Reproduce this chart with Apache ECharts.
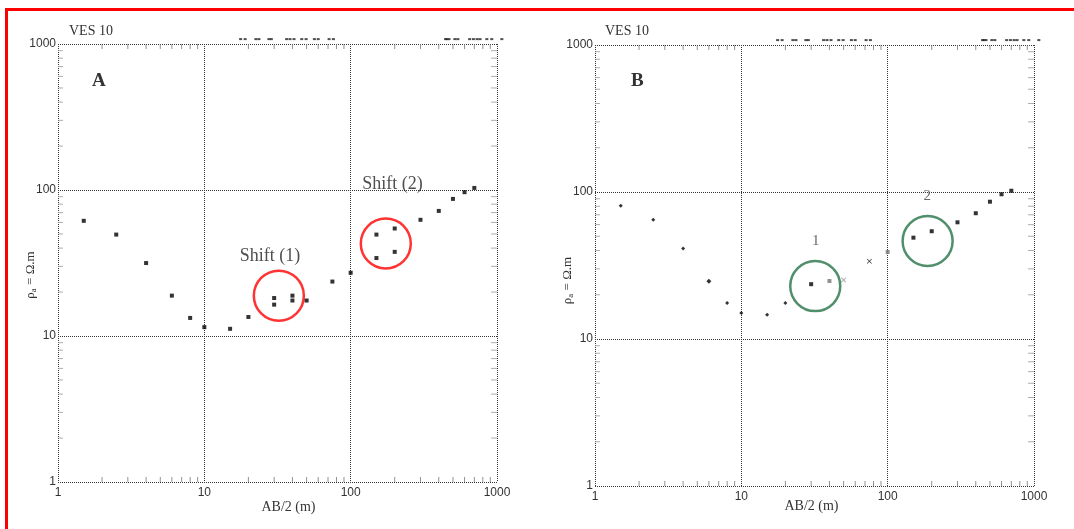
<!DOCTYPE html>
<html>
<head>
<meta charset="utf-8">
<script src="https://cdn.jsdelivr.net/npm/echarts@6/dist/echarts.min.js"></script>
<style>
html,body{margin:0;padding:0;background:#fff;}
#wrap{position:relative;width:1074px;height:529px;overflow:hidden;}
#chart{position:absolute;left:0;top:0;width:1074px;height:529px;}
#frame{position:absolute;left:5px;top:8px;width:1200px;height:600px;border:3px solid #ff0000;box-sizing:border-box;pointer-events:none;}
</style>
</head>
<body>
<div id="wrap"><div id="chart"></div><div id="frame"></div></div>
<script>
// ---- data ----
const titleText = 'VES 10';
const xName = 'AB/2 (m)';
const axisTicks = [1, 10, 100, 1000];
const minorTickValues = [2,3,4,5,6,7,8,9,20,30,40,50,60,70,80,90,200,300,400,500,600,700,800,900];

// Panel A
const aAB  = [1.5,2.5,4,6,8,10,15,20,30,30,40,40,50,75,100,150,150,200,200,300,400,500,600,700];
const aRho = [61.5,49.5,31.6,18.9,13.3,11.5,11.2,13.5,18.2,16.4,18.9,17.5,17.5,23.6,27.1,49.5,34.2,54.5,37.7,62.5,71.9,86.9,96.6,103.3];
const aCircleAB  = [32.3, 173.8];
const aCircleRho = [18.9, 43.0];
const aNoteText = ['Shift (1)', 'Shift (2)'];
const aNoteAB   = [28.1, 193];
const aNoteRho  = [35.4, 110];

// Panel B
const bAB  = [1.5,2.5,4,6,8,10,15,20,30,40,50,75,100,150,200,300,400,500,600,700];
const bRho = [80.7,64.8,41.2,24.7,17.6,15.0,14.6,17.6,23.6,24.8,25.2,33.8,39.1,48.9,54.1,62.2,71.7,85.9,96.5,102];
const bCircleAB  = [32.0, 187.5];
const bCircleRho = [22.9, 46.4];
const bNoteText = ['1', '2'];
const bNoteAB   = [32.3, 186.5];
const bNoteRho  = [46.4, 94.4];

// strip of small marks above the top frame
const topMarkAB = [17.7,19.0,22.5,23.6,27.6,28.7,36.5,38.5,41.0,46.3,49.6,56.5,60.0,71.2,76.2,445,455,470,515,540,650,690,731,766,852,921,1079];
const topMarkRho = 1080;

const panelLetters = ['A', 'B'];

// ---- build ----
const zip = (xs, ys) => xs.map((x, i) => [x, ys[i]]);
const serif = '"Liberation Serif", "DejaVu Serif", serif';
const sans = '"Liberation Sans", Arial, sans-serif';

function makeAxes(idx) {
  const dotted = {show: true, lineStyle: {color: '#333', type: [1, 1], width: 1}};
  return {
    x: {
      type: 'log', logBase: 10, min: 1, max: 1000, gridIndex: idx,
      axisLine: {show: false}, axisTick: {show: false},
      splitLine: dotted,
      axisLabel: {fontFamily: sans, fontSize: 12, color: '#333', margin: 5,
        formatter: v => String(Math.round(v))},
      name: xName, nameLocation: 'middle', nameGap: idx === 0 ? 18 : 13,
      nameMoveOverlap: false,
      nameTextStyle: {fontFamily: serif, fontSize: 14, color: '#333',
        padding: idx === 0 ? [0, 0, 0, 22] : [0, 6, 0, 0]}
    },
    y: {
      type: 'log', logBase: 10, min: 1, max: 1000, gridIndex: idx,
      axisLine: {show: false}, axisTick: {show: false},
      splitLine: dotted,
      axisLabel: {fontFamily: sans, fontSize: 12, color: '#333', margin: 2,
        formatter: v => String(Math.round(v))},
      name: '{r|ρ}{s|a}{r| = Ω.m}', nameLocation: 'middle', nameGap: 20,
      nameMoveOverlap: false,
      nameTextStyle: {padding: idx === 0 ? [0, 24, 0, 0] : [0, 30, 0, 0], rich: {
        r: {fontFamily: serif, fontSize: 13, color: '#333'},
        s: {fontFamily: serif, fontSize: 9, color: '#333', verticalAlign: 'bottom', padding: [6, 0, 0, 0]}
      }}
    }
  };
}

const A = makeAxes(0), B = makeAxes(1);

function tickSeries(idx) {
  const base = {type: 'scatter', xAxisIndex: idx, yAxisIndex: idx, clip: false, silent: true,
    symbol: 'rect', itemStyle: {color: '#777'}, z: 1};
  return [
    Object.assign({}, base, {data: minorTickValues.map(v => [v, 1]), symbolSize: [1, 5], symbolOffset: [0, -2.5]}),
    Object.assign({}, base, {data: minorTickValues.map(v => [v, 1000]), symbolSize: [1, 5], symbolOffset: [0, 2.5]}),
    Object.assign({}, base, {data: minorTickValues.map(v => [1, v]), symbolSize: [5, 1], symbolOffset: [2.5, 0], itemStyle: {color: '#999'}}),
    Object.assign({}, base, {data: minorTickValues.map(v => [1000, v]), symbolSize: [6, 1], symbolOffset: [-3, 0], itemStyle: {color: '#999'}}),
    Object.assign({}, base, {data: topMarkAB.map(v => [v, topMarkRho]), symbolSize: [3, 2], itemStyle: {color: '#222'}})
  ];
}

function circleSeries(idx, xs, ys, color) {
  return {type: 'scatter', xAxisIndex: idx, yAxisIndex: idx, silent: true, z: 3,
    data: zip(xs, ys), symbol: 'circle', symbolSize: 50,
    itemStyle: {color: 'rgba(0,0,0,0)', borderColor: color, borderWidth: 2.5}};
}

function noteSeries(idx, texts, xs, ys, style) {
  return {type: 'scatter', xAxisIndex: idx, yAxisIndex: idx, silent: true, z: 4,
    data: texts.map((t, i) => ({name: t, value: [xs[i], ys[i]]})),
    symbol: 'rect', symbolSize: 1, itemStyle: {color: 'rgba(0,0,0,0)'},
    label: Object.assign({show: true, position: 'inside', formatter: p => p.name}, style)};
}

const crossPath = 'path://M0,1L1,0L5,4L9,0L10,1L6,5L10,9L9,10L5,6L1,10L0,9L4,5Z';
function bSymbol(val) {
  const x = val[0];
  if (x <= 20) return 'diamond';
  if (x === 50 || x === 75) return crossPath;
  return 'rect';
}
function bSize(val) {
  const x = val[0];
  if (x === 6) return 5;
  if (x <= 20) return 4;
  if (x === 50 || x === 75) return 5;
  return 4;
}

const option = {
  animation: false,
  backgroundColor: '#fff',
  title: [
    {text: titleText, left: 64, top: 19, textStyle: {fontFamily: serif, fontSize: 14, fontWeight: 'normal', color: '#333'}},
    {text: titleText, left: 600, top: 19, textStyle: {fontFamily: serif, fontSize: 14, fontWeight: 'normal', color: '#333'}},
    {text: panelLetters[0], left: 87, top: 67, textStyle: {fontFamily: serif, fontSize: 19, fontWeight: 'bold', color: '#333'}},
    {text: panelLetters[1], left: 626, top: 67, textStyle: {fontFamily: serif, fontSize: 19, fontWeight: 'bold', color: '#333'}}
  ],
  grid: [
    {left: 58, top: 44, width: 439, height: 438},
    {left: 595, top: 45, width: 439, height: 441}
  ],
  xAxis: [A.x, B.x],
  yAxis: [A.y, B.y],
  series: [
    ...tickSeries(0),
    ...tickSeries(1),
    circleSeries(0, aCircleAB, aCircleRho, '#ff0000'),
    circleSeries(1, bCircleAB, bCircleRho, '#267347'),
    {type: 'scatter', xAxisIndex: 0, yAxisIndex: 0, z: 5, data: zip(aAB, aRho),
      symbol: 'rect', symbolSize: 4, itemStyle: {color: '#000'}},
    {type: 'scatter', xAxisIndex: 1, yAxisIndex: 1, z: 5, data: zip(bAB, bRho),
      symbol: bSymbol, symbolSize: bSize,
      itemStyle: {color: p => {
        const x = p.value[0];
        return (x === 40 || x === 50 || x === 100) ? '#777' : '#000';
      }}},
    noteSeries(0, aNoteText, aNoteAB, aNoteRho, {fontFamily: serif, fontSize: 18, color: '#222'}),
    noteSeries(1, bNoteText, bNoteAB, bNoteRho, {fontFamily: serif, fontSize: 15, color: '#444'})
  ]
};

const chart = echarts.init(document.getElementById('chart'), null, {renderer: 'canvas'});
chart.setOption(option);
</script>
</body>
</html>
